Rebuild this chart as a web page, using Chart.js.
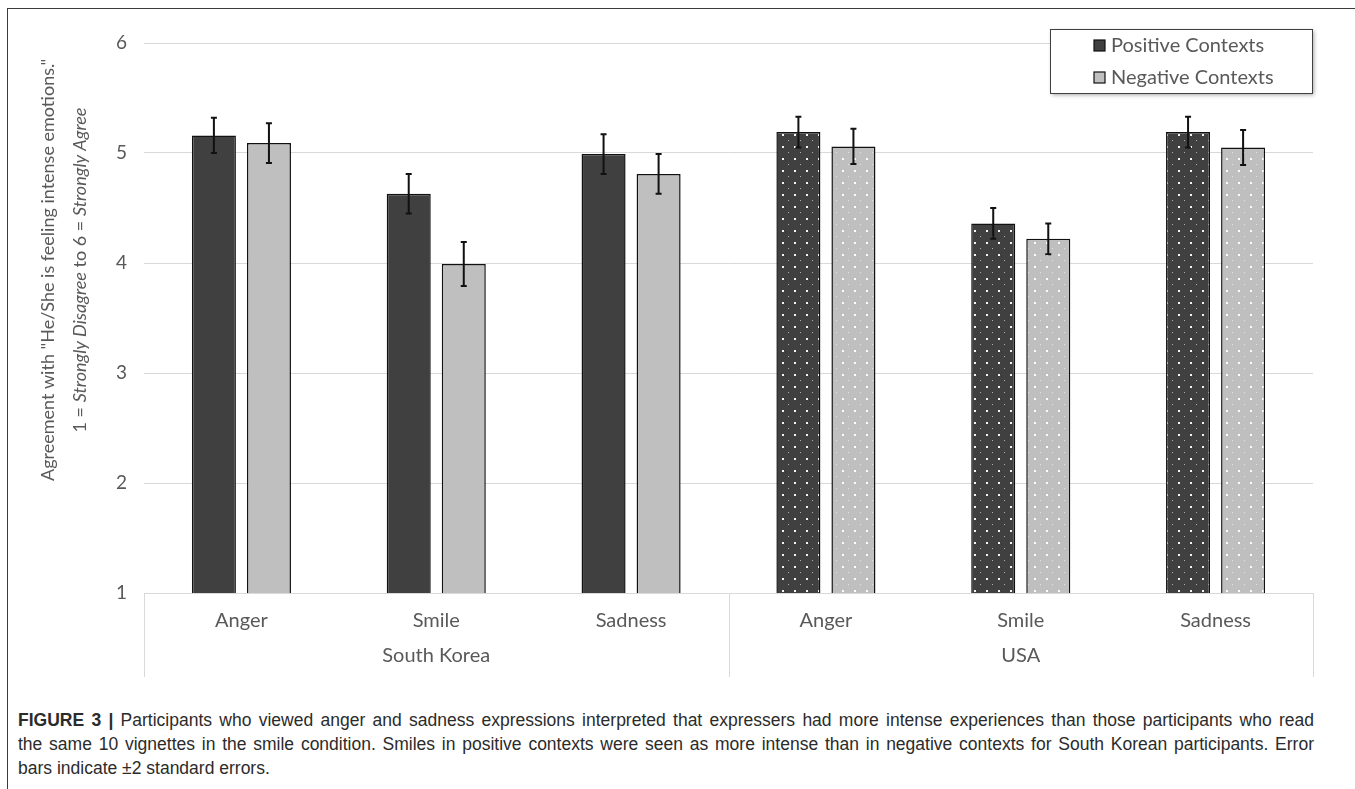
<!DOCTYPE html>
<html lang="en">
<head>
<meta charset="UTF-8">
<title>Figure 3</title>
<script src="https://cdn.jsdelivr.net/npm/chart.js"></script>
<style>
  html, body { margin: 0; padding: 0; background: #fff; }
  body { width: 1355px; height: 789px; position: relative; overflow: hidden; }
  .frame { position: absolute; left: 7px; top: 8px; right: -2px; bottom: -2px;
           border-left: 1.5px solid #3a3a3a; border-top: 1.5px solid #3a3a3a; }
  #chartBox { position: absolute; left: 0; top: 0; width: 1355px; height: 700px; }
  .caption { position: absolute; left: 18px; top: 708px; width: 1296px;
             font-family: "Liberation Sans", Arial, sans-serif; font-size: 17.5px;
             line-height: 24px; color: #2b2b2b; }
  .caption div { white-space: nowrap; }
  .caption .just { text-align: justify; text-align-last: justify; white-space: normal; }
  .caption b { font-weight: bold; }
</style>
</head>
<body>
<div class="frame"></div>
<div id="chartBox"><canvas id="grafico" width="1355" height="700"></canvas></div>
<div class="caption">
  <div class="just"><b>FIGURE 3 |</b> Participants who viewed anger and sadness expressions interpreted that expressers had more intense experiences than those participants who read</div>
  <div class="just">the same 10 vignettes in the smile condition. Smiles in positive contexts were seen as more intense than in negative contexts for South Korean participants. Error</div>
  <div>bars indicate ±2 standard errors.</div>
</div>

<script>
  // categorias e grupos do eixo x
  const categorias = ["Anger", "Smile", "Sadness", "Anger", "Smile", "Sadness"];
  const grupos = ["South Korea", "USA"];
  const seriesNomes = ["Positive Contexts", "Negative Contexts"];

  // médias e erros (±2 EP)
  const positivos = [5.16, 4.63, 4.99, 5.19, 4.36, 5.19];
  const negativos = [5.09, 3.99, 4.81, 5.06, 4.22, 5.05];
  const errosPositivos = [0.16, 0.18, 0.18, 0.14, 0.14, 0.14];
  const errosNegativos = [0.18, 0.20, 0.18, 0.16, 0.14, 0.16];

  const yTicks = [1, 2, 3, 4, 5, 6];

  const corEscura = "#404040";
  const corClara = "#bfbfbf";
  const corTexto = "#595959";
  const corGrade = "#d9d9d9";
  const fonte = "Lato, 'Open Sans', sans-serif";

  // padrão pontilhado usado nas barras dos EUA
  function criarPadrao(cor) {
    const c = document.createElement("canvas");
    c.width = 12;
    c.height = 12;
    const g = c.getContext("2d");
    g.fillStyle = cor;
    g.fillRect(0, 0, 12, 12);
    g.fillStyle = "rgba(255,255,255,0.95)";
    g.fillRect(2, 2, 2, 2);
    g.fillStyle = "rgba(255,255,255,0.6)";
    g.fillRect(8, 8, 1, 1);
    return g.createPattern(c, "repeat");
  }

  const padraoEscuro = criarPadrao(corEscura);
  const padraoClaro = criarPadrao(corClara);

  const preenchimentoPositivo = categorias.map((c, i) => i < 3 ? corEscura : padraoEscuro);
  const preenchimentoNegativo = categorias.map((c, i) => i < 3 ? corClara : padraoClaro);

  // barras de erro
  const barrasErro = {
    id: "barrasErro",
    afterDatasetsDraw(chart) {
      const ctx = chart.ctx;
      const y = chart.scales.y;
      const erros = [errosPositivos, errosNegativos];
      ctx.save();
      ctx.strokeStyle = "#111";
      ctx.lineWidth = 2;
      chart.data.datasets.forEach((ds, d) => {
        chart.getDatasetMeta(d).data.forEach((bar, i) => {
          const v = ds.data[i];
          const e = erros[d][i];
          const yt = y.getPixelForValue(v + e);
          const yb = y.getPixelForValue(v - e);
          ctx.beginPath();
          ctx.moveTo(bar.x, yt);
          ctx.lineTo(bar.x, yb);
          ctx.moveTo(bar.x - 3, yt);
          ctx.lineTo(bar.x + 3, yt);
          ctx.moveTo(bar.x - 3, yb);
          ctx.lineTo(bar.x + 3, yb);
          ctx.stroke();
        });
      });
      ctx.restore();
    }
  };

  // eixo x em dois níveis, título do eixo y e legenda
  const extras = {
    id: "extras",
    afterDraw(chart) {
      const ctx = chart.ctx;
      const area = chart.chartArea;
      const x = chart.scales.x;
      const fundo = area.bottom + 84;
      ctx.save();

      // linhas separadoras dos grupos
      ctx.strokeStyle = corGrade;
      ctx.lineWidth = 1;
      const meio = (area.left + area.right) / 2;
      [area.left, meio, area.right].forEach(px => {
        const p = Math.round(px) + 0.5;
        ctx.beginPath();
        ctx.moveTo(p, area.bottom);
        ctx.lineTo(p, fundo);
        ctx.stroke();
      });

      ctx.fillStyle = corTexto;
      ctx.font = "20px " + fonte;
      ctx.textAlign = "center";
      ctx.textBaseline = "middle";
      categorias.forEach((c, i) => {
        ctx.fillText(c, x.getPixelForValue(i), area.bottom + 28);
      });
      ctx.fillText(grupos[0], (area.left + meio) / 2, area.bottom + 63);
      ctx.fillText(grupos[1], (meio + area.right) / 2, area.bottom + 63);

      // título do eixo y (duas linhas, com itálico)
      const linhas = [
        [["Agreement with \"He/She is feeling intense emotions.\"", false]],
        [["1 = ", false], ["Strongly Disagree", true], [" to 6 = ", false], ["Strongly Agree", true]]
      ];
      const colunas = [48, 80];
      const centroY = 270;
      linhas.forEach((partes, k) => {
        let total = 0;
        partes.forEach(([t, it]) => {
          ctx.font = (it ? "italic " : "") + "18px " + fonte;
          total += ctx.measureText(t).width;
        });
        ctx.save();
        ctx.translate(colunas[k], centroY);
        ctx.rotate(-Math.PI / 2);
        ctx.textAlign = "left";
        let pos = -total / 2;
        partes.forEach(([t, it]) => {
          ctx.font = (it ? "italic " : "") + "18px " + fonte;
          ctx.fillText(t, pos, 0);
          pos += ctx.measureText(t).width;
        });
        ctx.restore();
      });

      // legenda
      const lx = 1050, ly = 29, lw = 262, lh = 64;
      ctx.save();
      ctx.shadowColor = "rgba(0,0,0,0.35)";
      ctx.shadowBlur = 4;
      ctx.shadowOffsetX = 2;
      ctx.shadowOffsetY = 2;
      ctx.fillStyle = "#fff";
      ctx.fillRect(lx, ly, lw, lh);
      ctx.restore();
      ctx.strokeStyle = "#404040";
      ctx.lineWidth = 1;
      ctx.strokeRect(lx + 0.5, ly + 0.5, lw, lh);

      const cores = [corEscura, corClara];
      seriesNomes.forEach((nome, k) => {
        const cy = ly + 16 + k * 32;
        ctx.fillStyle = cores[k];
        ctx.fillRect(1094, cy - 5, 11, 11);
        ctx.strokeStyle = "#111";
        ctx.lineWidth = 1.2;
        ctx.strokeRect(1094, cy - 5, 11, 11);
        ctx.fillStyle = corTexto;
        ctx.font = "20px " + fonte;
        ctx.textAlign = "left";
        ctx.textBaseline = "middle";
        ctx.fillText(nome, 1111, cy + 1);
      });

      ctx.restore();
    }
  };

  const dados = {
    labels: categorias,
    datasets: [
      {
        label: seriesNomes[0],
        data: positivos,
        backgroundColor: preenchimentoPositivo,
        borderColor: "#111",
        borderWidth: 1.5,
        categoryPercentage: 0.565,
        barPercentage: 0.8
      },
      {
        label: seriesNomes[1],
        data: negativos,
        backgroundColor: preenchimentoNegativo,
        borderColor: "#111",
        borderWidth: 1.5,
        categoryPercentage: 0.565,
        barPercentage: 0.8
      }
    ]
  };

  const config = {
    type: "bar",
    data: dados,
    options: {
      responsive: false,
      animation: false,
      layout: {
        padding: { left: 0, right: 42, top: 43, bottom: 107 }
      },
      scales: {
        x: {
          display: false
        },
        y: {
          min: 1,
          max: 6,
          afterFit(scale) { scale.width = 144; },
          afterBuildTicks(scale) { scale.ticks = yTicks.map(v => ({ value: v })); },
          grid: { color: corGrade, lineWidth: 1, drawTicks: false },
          border: { display: false },
          ticks: {
            color: corTexto,
            padding: 17,
            font: { family: fonte, size: 19 }
          }
        }
      },
      plugins: {
        legend: { display: false },
        tooltip: { enabled: false }
      }
    },
    plugins: [barrasErro, extras]
  };

  new Chart(document.getElementById("grafico"), config);
</script>
</body>
</html>
